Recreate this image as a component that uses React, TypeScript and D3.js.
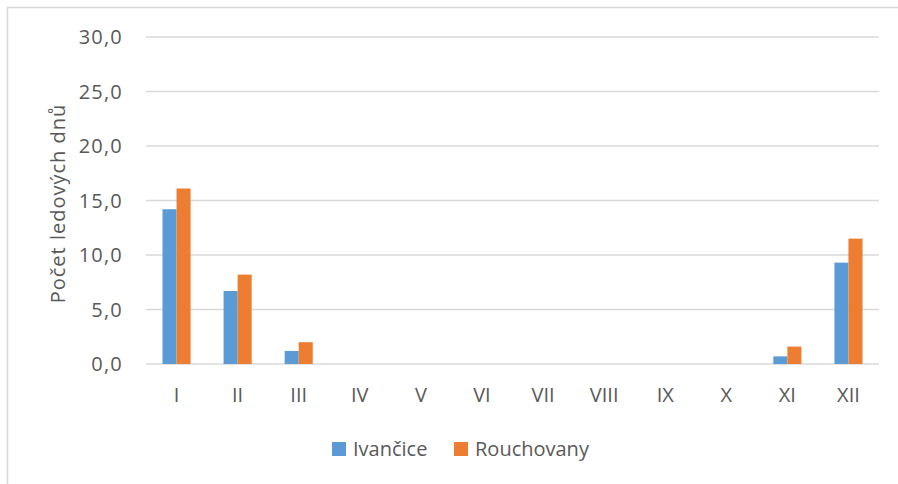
import React, { useEffect, useRef } from "react";
import * as d3 from "d3";

const months = ["I", "II", "III", "IV", "V", "VI", "VII", "VIII", "IX", "X", "XI", "XII"];
const seriesNames = ["Ivančice", "Rouchovany"];
const ivancice = [14.2, 6.7, 1.2, 0, 0, 0, 0, 0, 0, 0, 0.7, 9.3];
const rouchovany = [16.1, 8.2, 2.0, 0, 0, 0, 0, 0, 0, 0, 1.6, 11.5];
const yTicks = [0, 5, 10, 15, 20, 25, 30];
const colors = ["#5b9bd5", "#ed7d31"];

const App = () => {
  const svgRef = useRef<SVGSVGElement>(null);

  useEffect(() => {
    const width = 898;
    const height = 484;
    const margin = { top: 37, left: 146, right: 19, bottom: 120 };
    const font = "'Open Sans', sans-serif";
    const textColor = "#595959";

    const svg = d3.select(svgRef.current)
      .attr("width", width)
      .attr("height", height);
    svg.selectAll("*").remove();

    svg.append("rect")
      .attr("x", 7.5).attr("y", 7.5)
      .attr("width", width).attr("height", height)
      .attr("fill", "#fff")
      .attr("stroke", "#d9d9d9")
      .attr("stroke-width", 1.5);

    const x0 = d3.scaleBand()
      .domain(months)
      .range([margin.left, width - margin.right]);

    const pairW = x0.bandwidth() * 0.46;
    const x1 = d3.scaleBand()
      .domain(seriesNames)
      .range([0, pairW]);

    const y = d3.scaleLinear()
      .domain([0, 30])
      .range([height - margin.bottom, margin.top]);

    // grid
    svg.append("g")
      .selectAll("line")
      .data(yTicks)
      .join("line")
      .attr("x1", margin.left)
      .attr("x2", width - margin.right)
      .attr("y1", d => y(d))
      .attr("y2", d => y(d))
      .attr("stroke", "#d9d9d9")
      .attr("stroke-width", 1.5);

    // y tick labels
    svg.append("g")
      .selectAll("text")
      .data(yTicks)
      .join("text")
      .attr("x", 123)
      .attr("y", d => y(d))
      .attr("dy", "0.35em")
      .attr("text-anchor", "end")
      .attr("font-family", font)
      .attr("font-size", 20)
      .attr("letter-spacing", 1.2)
      .attr("fill", textColor)
      .text(d => d3.format(".1f")(d).replace(".", ","));

    // y title
    svg.append("text")
      .attr("transform", `translate(58,${(y(0) + y(30)) / 2 + 3}) rotate(-90)`)
      .attr("text-anchor", "middle")
      .attr("dy", "0.35em")
      .attr("font-family", font)
      .attr("font-size", 20)
      .attr("letter-spacing", 1)
      .attr("fill", textColor)
      .text("Počet ledových dnů");

    const rows = months.map((m, i) => ({ month: m, values: [ivancice[i], rouchovany[i]] }));

    const groups = svg.append("g")
      .selectAll("g")
      .data(rows)
      .join("g")
      .attr("transform", d => `translate(${x0(d.month)! + (x0.bandwidth() - pairW) / 2},0)`);

    groups.selectAll("rect")
      .data(d => d.values.map((v, j) => ({ name: seriesNames[j], v, j })))
      .join("rect")
      .attr("x", d => x1(d.name)!)
      .attr("y", d => y(d.v))
      .attr("width", x1.bandwidth())
      .attr("height", d => y(0) - y(d.v))
      .attr("fill", d => colors[d.j]);

    // category labels
    svg.append("g")
      .selectAll("text")
      .data(months)
      .join("text")
      .attr("x", d => x0(d)! + x0.bandwidth() / 2)
      .attr("y", 402)
      .attr("text-anchor", "middle")
      .attr("font-family", font)
      .attr("font-size", 20)
      .attr("fill", textColor)
      .text(d => d);

    // legend
    const legendX = [332, 454];
    const legend = svg.append("g")
      .selectAll("g")
      .data(seriesNames)
      .join("g")
      .attr("transform", (d, i) => `translate(${legendX[i]},442)`);
    legend.append("rect")
      .attr("width", 14).attr("height", 14)
      .attr("fill", (d, i) => colors[i]);
    legend.append("text")
      .attr("x", 21)
      .attr("y", 7)
      .attr("dy", "0.35em")
      .attr("font-family", font)
      .attr("font-size", 20)
      .attr("fill", textColor)
      .text(d => d);
  }, []);

  return <svg ref={svgRef} style={{ position: "absolute", left: 0, top: 0 }} />;
};

export default App;
